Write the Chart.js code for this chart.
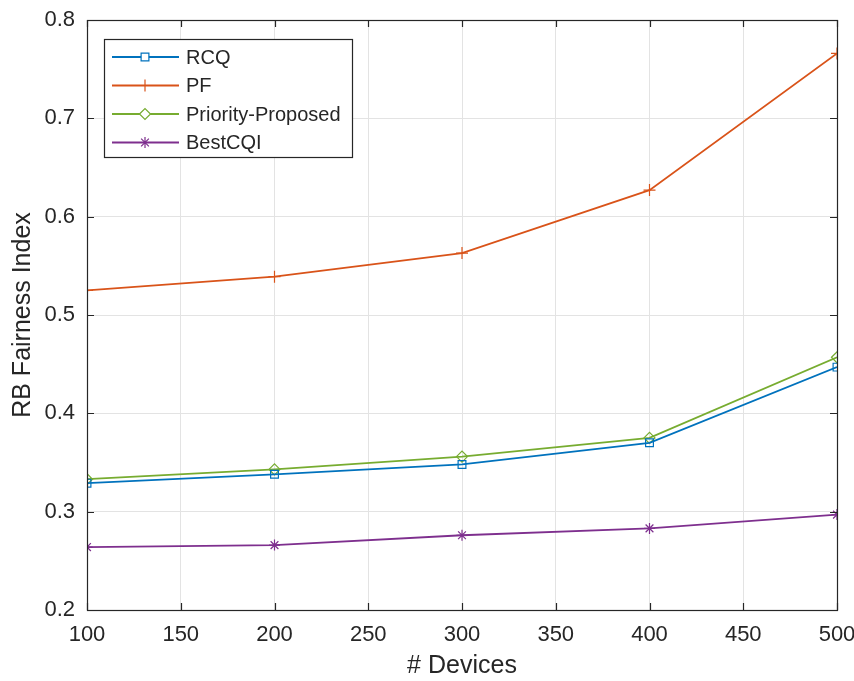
<!DOCTYPE html>
<html>
<head>
<meta charset="utf-8">
<script src="https://cdn.jsdelivr.net/npm/chart.js"></script>
<style>
  html, body { margin: 0; padding: 0; background: #fff; }
  #wrap { width: 854px; height: 681px; }
</style>
</head>
<body>
<div id="wrap"><canvas id="fairness" width="854" height="681"></canvas></div>
<script>
// x axis: number of devices
const devices = [100, 200, 300, 400, 500];
const xTicks = [100, 150, 200, 250, 300, 350, 400, 450, 500];
const yTicks = [0.2, 0.3, 0.4, 0.5, 0.6, 0.7, 0.8];

// series values
const rcq = [0.329, 0.338, 0.348, 0.370, 0.447];
const pf = [0.525, 0.539, 0.563, 0.627, 0.766];
const priorityProposed = [0.333, 0.343, 0.356, 0.375, 0.457];
const bestCqi = [0.264, 0.266, 0.276, 0.283, 0.297];

const seriesNames = ["RCQ", "PF", "Priority-Proposed", "BestCQI"];
const seriesColors = ["#0072BD", "#D95319", "#77AC30", "#7E2F8E"];
const seriesMarkers = ["rect", "cross", "rectRot", "star"];

const FONT = "'Liberation Sans', Arial, sans-serif";

function toPoints(vals) {
    return devices.map((d, i) => ({ x: d, y: vals[i] }));
}

const datasets = [rcq, pf, priorityProposed, bestCqi].map((vals, i) => ({
    label: seriesNames[i],
    data: toPoints(vals),
    borderColor: seriesColors[i],
    backgroundColor: "rgba(0,0,0,0)",
    pointStyle: seriesMarkers[i],
    pointBorderColor: seriesColors[i],
    pointBackgroundColor: "rgba(0,0,0,0)",
    pointRadius: i === 1 ? 6 : 5.5,
    pointBorderWidth: 1.2,
    borderWidth: 1.8,
    tension: 0
}));

// matlab-style box, inward ticks and legend inside the axes
const matlabAxes = {
    id: "matlabAxes",
    afterDraw(chart) {
        const ctx = chart.ctx;
        const a = chart.chartArea;
        const xs = chart.scales.x, ys = chart.scales.y;
        ctx.save();
        ctx.strokeStyle = "#262626";
        ctx.lineWidth = 1.2;
        ctx.strokeRect(a.left + 0.5, a.top + 0.5, a.right - a.left, a.bottom - a.top);
        ctx.beginPath();
        xTicks.forEach(t => {
            const px = Math.round(xs.getPixelForValue(t)) + 0.5;
            ctx.moveTo(px, a.bottom); ctx.lineTo(px, a.bottom - 7);
            ctx.moveTo(px, a.top); ctx.lineTo(px, a.top + 7);
        });
        yTicks.forEach(t => {
            const py = Math.round(ys.getPixelForValue(t)) + 0.5;
            ctx.moveTo(a.left, py); ctx.lineTo(a.left + 7, py);
            ctx.moveTo(a.right, py); ctx.lineTo(a.right - 7, py);
        });
        ctx.stroke();

        // legend
        const lx = a.left + 17, ly = a.top + 19, lw = 248, lh = 118;
        ctx.fillStyle = "#fff";
        ctx.fillRect(lx, ly, lw, lh);
        ctx.strokeStyle = "#262626";
        ctx.lineWidth = 1.2;
        ctx.strokeRect(lx + 0.5, ly + 0.5, lw, lh);
        ctx.font = "20px " + FONT;
        ctx.textBaseline = "middle";
        chart.data.datasets.forEach((ds, i) => {
            const ry = ly + 18 + i * 28.5;
            ctx.strokeStyle = ds.borderColor;
            ctx.lineWidth = 1.8;
            ctx.beginPath();
            ctx.moveTo(lx + 8, ry); ctx.lineTo(lx + 75, ry);
            ctx.stroke();
            ctx.lineWidth = 1.2;
            ctx.fillStyle = "#fff";
            Chart.helpers.drawPoint(ctx, {
                pointStyle: ds.pointStyle, radius: ds.pointRadius, borderWidth: 1.2, rotation: 0
            }, lx + 41, ry);
            ctx.fillStyle = "#262626";
            ctx.fillText(ds.label, lx + 82, ry + 1);
        });
        ctx.restore();
    }
};

new Chart(document.getElementById("fairness").getContext("2d"), {
    type: "line",
    data: { datasets: datasets },
    options: {
        responsive: false,
        animation: false,
        layout: { padding: { top: 20, right: 17, left: 0, bottom: 0 } },
        plugins: {
            legend: { display: false },
            tooltip: { enabled: false }
        },
        scales: {
            x: {
                type: "linear",
                min: 100,
                max: 500,
                afterBuildTicks: s => { s.ticks = xTicks.map(v => ({ value: v })); },
                afterFit: s => { s.height = 71; s.paddingLeft = 0; s.paddingRight = 0; },
                grid: { color: "#e3e3e3", drawTicks: false, lineWidth: 1 },
                border: { display: false },
                ticks: { color: "#262626", font: { family: FONT, size: 22 }, padding: 12, maxRotation: 0 },
                title: { display: true, text: "# Devices", color: "#262626", font: { family: FONT, size: 25 }, padding: { top: 0, bottom: 0 } }
            },
            y: {
                min: 0.2,
                max: 0.8,
                afterBuildTicks: s => { s.ticks = yTicks.map(v => ({ value: v })); },
                afterFit: s => { s.width = 87; s.paddingTop = 0; s.paddingBottom = 0; },
                grid: { color: "#e3e3e3", drawTicks: false, lineWidth: 1 },
                border: { display: false },
                ticks: { color: "#262626", font: { family: FONT, size: 22 }, padding: 12,
                    callback: v => v.toFixed(1) },
                title: { display: true, text: "RB Fairness Index", color: "#262626", font: { family: FONT, size: 25 }, padding: { top: 8, bottom: 0 } }
            }
        }
    },
    plugins: [matlabAxes]
});
</script>
</body>
</html>
